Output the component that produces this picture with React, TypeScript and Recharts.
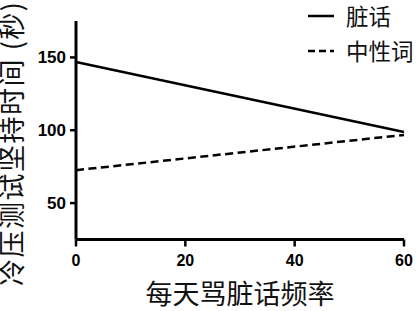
import React from 'react';
import { LineChart, Line, XAxis, YAxis, Legend, Label } from 'recharts';

const xValues = [0, 60];
const swearValues = [146.8, 98.8];
const neutralValues = [72.6, 96.8];
const xTicks = [0, 20, 40, 60];
const yTicks = [50, 100, 150];
const seriesNames = { swear: '脏话', neutral: '中性词' };
const xLabel = '每天骂脏话频率';
const yLabel = '冷压测试坚持时间 (秒)';

const data = xValues.map((x, i) => ({ x, swear: swearValues[i], neutral: neutralValues[i] }));

const CJK = '"Noto Sans CJK SC", "Noto Sans", sans-serif';
const NUM = '"Liberation Sans", Arial, sans-serif';
const dashes: Record<string, string | undefined> = { swear: undefined, neutral: '7 4' };
const legendOrder = ['swear', 'neutral'];

const LegendContent = (props: any) => {
  const payload = [...(props.payload || [])].sort(
    (a: any, b: any) => legendOrder.indexOf(String(a.dataKey)) - legendOrder.indexOf(String(b.dataKey))
  );
  return (
    <div style={{ fontFamily: CJK, fontSize: 22.5, color: '#111' }}>
      {payload.map((p: any) => (
        <div key={String(p.dataKey)} style={{ display: 'flex', alignItems: 'center', height: 35, whiteSpace: 'nowrap' }}>
          <svg width={26} height={6} style={{ marginRight: 12, display: 'block' }}>
            <line x1={0} y1={3} x2={26} y2={3} stroke="#000" strokeWidth={2.5} strokeDasharray={dashes[String(p.dataKey)]} />
          </svg>
          <span style={{ lineHeight: '35px' }}>{p.value}</span>
        </div>
      ))}
    </div>
  );
};

const YLabelContent = (props: any) => {
  const vb = props.viewBox || { x: 0, y: 0, width: 0, height: 0 };
  const x = vb.x + 10.5;
  const y = vb.y + vb.height / 2 + 13;
  return (
    <text
      x={x}
      y={y}
      transform={`rotate(-90 ${x} ${y})`}
      textAnchor="middle"
      dominantBaseline="central"
      fontSize={27}
      letterSpacing={1.5}
      fontFamily={CJK}
      fill="#111"
    >
      {yLabel}
    </text>
  );
};

export default function App() {
  return (
    <div style={{ position: 'absolute', left: 0, top: 0 }}>
      <LineChart width={416} height={311} data={data} margin={{ top: 21, right: 12, bottom: 0, left: 0 }}>
        <XAxis
          dataKey="x"
          type="number"
          domain={[0, 60]}
          ticks={xTicks}
          interval={0}
          height={71.5}
          tickSize={7}
          tickMargin={8}
          axisLine={{ stroke: '#000', strokeWidth: 3 }}
          tickLine={{ stroke: '#000', strokeWidth: 2.5 }}
          tick={{ fill: '#000', fontSize: 16, fontWeight: 'bold', fontFamily: NUM }}
        >
          <Label value={xLabel} position="insideBottom" offset={7} fontSize={27} fontFamily={CJK} fill="#111" />
        </XAxis>
        <YAxis
          type="number"
          domain={[25, 175]}
          ticks={yTicks}
          interval={0}
          width={76}
          tickSize={6}
          tickMargin={4}
          axisLine={{ stroke: '#000', strokeWidth: 3 }}
          tickLine={{ stroke: '#000', strokeWidth: 2.5 }}
          tick={{ fill: '#000', fontSize: 17, fontWeight: 'bold', fontFamily: NUM }}
        >
          <Label content={<YLabelContent />} />
        </YAxis>
        <Legend
          layout="vertical"
          align="center"
          verticalAlign="middle"
          content={<LegendContent />}
          wrapperStyle={{ position: 'absolute', top: -2, left: 308, width: 108, height: 70 }}
        />
        <Line
          dataKey="swear"
          name={seriesNames.swear}
          stroke="#000"
          strokeWidth={2.5}
          dot={false}
          isAnimationActive={false}
        />
        <Line
          dataKey="neutral"
          name={seriesNames.neutral}
          stroke="#000"
          strokeWidth={2.5}
          strokeDasharray="8 4.5"
          dot={false}
          isAnimationActive={false}
        />
      </LineChart>
    </div>
  );
}
